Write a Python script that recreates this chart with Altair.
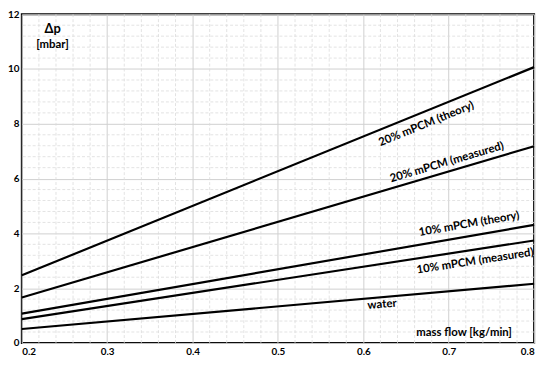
import altair as alt
import pandas as pd

# ---- data ----
mass_flow = [0.2, 0.8]
water = [0.51, 2.16]
pcm10_measured = [0.87, 3.74]
pcm10_theory = [1.07, 4.31]
pcm20_measured = [1.66, 7.18]
pcm20_theory = [2.47, 10.07]

series_names = ["water", "10% mPCM (measured)", "10% mPCM (theory)",
                "20% mPCM (measured)", "20% mPCM (theory)"]
series_values = [water, pcm10_measured, pcm10_theory, pcm20_measured, pcm20_theory]

# line labels (data coordinates) and their rotation
label_x = [0.622, 0.731, 0.724, 0.698, 0.674]
label_y = [1.39, 2.97, 4.33, 6.58, 7.98]
label_angle = [355, 351.3, 350.2, 343.5, 337.8]

x_major = [0.2, 0.3, 0.4, 0.5, 0.6, 0.7, 0.8]
y_major = [0, 2, 4, 6, 8, 10, 12]
x_minor = [round(0.2 + 0.02 * i, 2) for i in range(31) if i % 5 != 0]
y_minor = [round(0.4 * i, 1) for i in range(31) if i % 5 != 0]

rows = []
for name, vals in zip(series_names, series_values):
    for xv, yv in zip(mass_flow, vals):
        rows.append({"series": name, "x": xv, "y": yv})
df = pd.DataFrame(rows)

lab = pd.DataFrame({"text": series_names, "x": label_x, "y": label_y, "angle": label_angle})
ytitle = pd.DataFrame({"text": ["Δp", "[mbar]"], "x": [0.236, 0.236], "y": [11.45, 10.87],
                       "size": [13, 11.5]})
xtitle = pd.DataFrame({"text": ["mass flow [kg/min]"], "x": [0.774], "y": [0.36]})
xminor_df = pd.DataFrame({"x": x_minor})
yminor_df = pd.DataFrame({"y": y_minor})

FONT = "Lato"
xs = alt.Scale(domain=[0.2, 0.8], nice=False, zero=False)
ys = alt.Scale(domain=[0, 12], nice=False)

vminor = alt.Chart(xminor_df).mark_rule(color="#dcdcdc", strokeDash=[3, 2], strokeWidth=0.8).encode(
    x=alt.X("x:Q", scale=xs)
)
hminor = alt.Chart(yminor_df).mark_rule(color="#dcdcdc", strokeDash=[3, 2], strokeWidth=0.8).encode(
    y=alt.Y("y:Q", scale=ys)
)

lines = alt.Chart(df).mark_line(color="black", strokeWidth=2.2).encode(
    x=alt.X("x:Q", scale=xs, axis=alt.Axis(values=x_major, format=".1f", grid=True,
                                           gridColor="#cfcfcf", gridWidth=1, ticks=False,
                                           domain=False, title=None, labelPadding=4)),
    y=alt.Y("y:Q", scale=ys, axis=alt.Axis(values=y_major, format="d", grid=True,
                                           gridColor="#cfcfcf", gridWidth=1, ticks=False,
                                           domain=False, title=None, labelPadding=3)),
    detail="series:N",
)

labels = alt.Chart(lab).mark_text(font=FONT, fontWeight="bold", fontSize=11.5, color="black").encode(
    x=alt.X("x:Q", scale=xs), y=alt.Y("y:Q", scale=ys),
    text="text:N", angle=alt.Angle("angle:Q", scale=None),
)

ytxt = alt.Chart(ytitle).mark_text(font=FONT, fontWeight="bold", color="black").encode(
    x=alt.X("x:Q", scale=xs), y=alt.Y("y:Q", scale=ys), text="text:N",
    size=alt.Size("size:Q", scale=None),
)

xtxt = alt.Chart(xtitle).mark_text(font=FONT, fontWeight="bold", fontSize=11.5, color="black",
                                   align="right").encode(
    x=alt.X("x:Q", scale=xs), y=alt.Y("y:Q", scale=ys), text="text:N",
)

chart = alt.layer(vminor, hminor, lines, labels, ytxt, xtxt).properties(
    width=519, height=333,
    autosize=alt.AutoSizeParams(type="none"),
    padding={"left": 14, "top": 4, "right": 8, "bottom": 20},
).configure_view(
    stroke="black", strokeWidth=2
).configure_axis(
    labelFont=FONT, labelFontWeight="bold", labelFontSize=10, labelColor="black"
)

chart.save("out.html", embed_options={"renderer": "svg", "actions": False})
